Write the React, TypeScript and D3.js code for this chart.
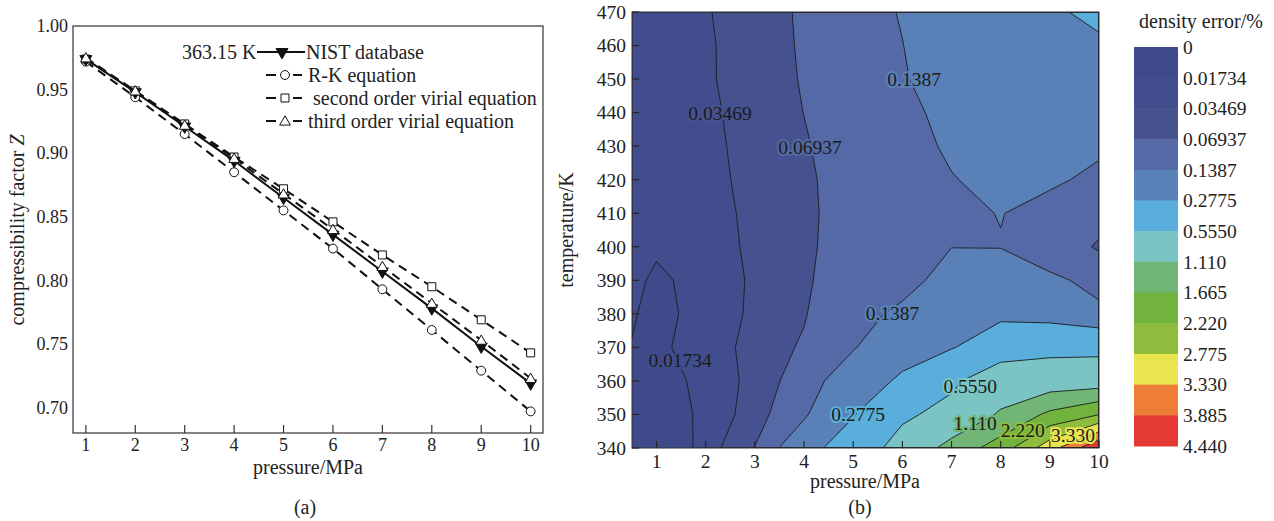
import React from 'react';
import * as d3 from 'd3';

// ---------- panel (a) data ----------
const PRESSURE = [1, 2, 3, 4, 5, 6, 7, 8, 9, 10];
const Z_NIST = [0.974, 0.948, 0.921, 0.894, 0.865, 0.836, 0.807, 0.778, 0.748, 0.719];
const Z_RK = [0.972, 0.944, 0.915, 0.885, 0.855, 0.825, 0.793, 0.761, 0.729, 0.697];
const Z_VIR2 = [0.974, 0.949, 0.923, 0.897, 0.872, 0.846, 0.820, 0.795, 0.769, 0.743];
const Z_VIR3 = [0.975, 0.949, 0.922, 0.896, 0.868, 0.840, 0.811, 0.782, 0.753, 0.723];
const LEFT_Y_TICKS = [0.7, 0.75, 0.8, 0.85, 0.9, 0.95, 1.0];
const LEFT_X_TICKS = [1, 2, 3, 4, 5, 6, 7, 8, 9, 10];
const LEGEND_NAMES = ['NIST database', 'R-K equation', ' second order virial equation', 'third order virial equation'];

// ---------- panel (b) data: density error (%) on a pressure x temperature grid ----------
const GRID_P = [0.5, 1, 2, 3, 4, 5, 6, 7, 8, 9, 10];
const GRID_T = [340, 350, 360, 370, 380, 390, 400, 410, 420, 430, 440, 450, 460, 470];
const ERR_340 = [0.0125, 0.0143, 0.0184, 0.071, 0.21, 0.38, 0.667, 1.30, 1.927, 3.10, 4.40];
const ERR_350 = [0.014, 0.0155, 0.018, 0.046, 0.126, 0.266, 0.507, 0.645, 1.178, 1.776, 2.21];
const ERR_360 = [0.016, 0.0163, 0.018, 0.0425, 0.095, 0.20, 0.30, 0.502, 0.75, 0.78, 0.80];
const ERR_370 = [0.01728, 0.0166, 0.019, 0.045, 0.075, 0.132, 0.22, 0.266, 0.40, 0.454, 0.46];
const ERR_380 = [0.0175, 0.0168, 0.018, 0.040, 0.0657, 0.12, 0.15, 0.20, 0.24, 0.212, 0.145];
const ERR_390 = [0.0178, 0.0170, 0.018, 0.039, 0.060, 0.11, 0.12, 0.16, 0.175, 0.145, 0.1296];
const ERR_400 = [0.020, 0.0176, 0.018, 0.042, 0.058, 0.10, 0.11, 0.138, 0.137, 0.12, 0.06];
const ERR_410 = [0.021, 0.019, 0.021, 0.043, 0.058, 0.095, 0.105, 0.13, 0.14, 0.125, 0.10];
const ERR_420 = [0.022, 0.020, 0.026, 0.043, 0.060, 0.095, 0.105, 0.135, 0.16, 0.145, 0.13];
const ERR_430 = [0.023, 0.021, 0.030, 0.041, 0.065, 0.095, 0.11, 0.15, 0.18, 0.17, 0.145];
const ERR_440 = [0.024, 0.022, 0.032, 0.040, 0.070, 0.095, 0.12, 0.16, 0.195, 0.19, 0.17];
const ERR_450 = [0.025, 0.023, 0.0335, 0.039, 0.074, 0.095, 0.13, 0.19, 0.21, 0.21, 0.20];
const ERR_460 = [0.026, 0.024, 0.0338, 0.038, 0.077, 0.096, 0.137, 0.20, 0.225, 0.23, 0.25];
const ERR_470 = [0.027, 0.025, 0.0345, 0.036, 0.080, 0.0965, 0.145, 0.21, 0.24, 0.25, 0.32];
const ERR_ROWS = [ERR_340, ERR_350, ERR_360, ERR_370, ERR_380, ERR_390, ERR_400, ERR_410, ERR_420, ERR_430, ERR_440, ERR_450, ERR_460, ERR_470];

const LEVELS = [0, 0.01734, 0.03469, 0.06937, 0.1387, 0.2775, 0.555, 1.11, 1.665, 2.22, 2.775, 3.33, 3.885, 4.44];
const LEVEL_LABELS = ['0', '0.01734', '0.03469', '0.06937', '0.1387', '0.2775', '0.5550', '1.110', '1.665', '2.220', '2.775', '3.330', '3.885', '4.440'];
const BAND_COLORS = ['#3f4a8a', '#414d8c', '#46528f', '#5469a5', '#5a81b7', '#5aaedb', '#7ac4c4', '#72b675', '#71b33c', '#8ebc3c', '#e8e54f', '#ee7e37', '#e53a33'];

const CLABEL_TEXT = ['0.03469', '0.06937', '0.1387', '0.01734', '0.1387', '0.2775', '0.5550', '1.110', '2.220', '3.330'];
const CLABEL_P = [2.29, 4.12, 6.24, 1.48, 5.8, 5.1, 7.38, 7.48, 8.45, 9.47];
const CLABEL_T = [439.9, 429.7, 450, 366.2, 380.3, 350.1, 358.5, 347.5, 345.4, 343.9];
const CLABEL_BG = [2, 3, 4, 1, 4, 5, 6, 7, 9, 10];

const RIGHT_X_TICKS = [1, 2, 3, 4, 5, 6, 7, 8, 9, 10];
const RIGHT_Y_TICKS = [340, 350, 360, 370, 380, 390, 400, 410, 420, 430, 440, 450, 460, 470];

const FONT = "'Liberation Serif', 'Times New Roman', Times, serif";
const TXT: React.CSSProperties = { fontFamily: FONT };

export default function App() {
  // ---------------- panel (a) ----------------
  const xL = d3.scaleLinear().domain([0.74, 10.25]).range([73, 543]);
  const yL = d3.scaleLinear().domain([0.68, 1.0]).range([433, 26]);
  const mkLine = (ys: number[]) =>
    d3.line<number>().x((_, i) => xL(PRESSURE[i])).y((d) => yL(d))(ys) || '';

  const circ = d3.symbol().type(d3.symbolCircle).size(62)() || '';
  const sq = d3.symbol().type(d3.symbolSquare).size(64)() || '';
  const tri = d3.symbol().type(d3.symbolTriangle).size(50)() || '';
  const triDown = d3.symbol().type(d3.symbolTriangle).size(62)() || '';

  // ---------------- panel (b) ----------------
  const xR = d3.scaleLinear().domain([0.5, 10]).range([632, 1099]);
  const yR = d3.scaleLinear().domain([340, 470]).range([448, 12]);
  const nx = GRID_P.length, ny = GRID_T.length;
  const idxToP = d3.scaleLinear().domain(d3.range(nx)).range(GRID_P);
  const idxToT = d3.scaleLinear().domain(d3.range(ny)).range(GRID_T);
  const gP = (g: number) => idxToP(Math.max(0, Math.min(nx - 1, g - 0.5)));
  const gT = (g: number) => idxToT(Math.max(0, Math.min(ny - 1, g - 0.5)));
  const values: number[] = ([] as number[]).concat(...ERR_ROWS);
  const contours = d3.contours().size([nx, ny]).thresholds(LEVELS.slice(1, 13))(values);
  const proj = d3.geoTransform({
    point(x: number, y: number) {
      (this as any).stream.point(xR(gP(x)), yR(gT(y)));
    },
  });
  const gpath = d3.geoPath(proj);

  const cbY = d3.scaleLinear().domain([0, 13]).range([47, 446]);

  return (
    <svg width={1274} height={521} style={{ position: 'absolute', left: 0, top: 0, background: '#fff', fontFamily: FONT }}>
      <rect x={0} y={0} width={1274} height={521} fill="#fff" />
      {/* ===== Panel (a) ===== */}
      <g>
        <path d={mkLine(Z_RK)} fill="none" stroke="#111" strokeWidth={2} strokeDasharray="9,6" />
        <path d={mkLine(Z_VIR2)} fill="none" stroke="#111" strokeWidth={2} strokeDasharray="9,6" />
        <path d={mkLine(Z_VIR3)} fill="none" stroke="#111" strokeWidth={2} strokeDasharray="9,6" />
        <path d={mkLine(Z_NIST)} fill="none" stroke="#111" strokeWidth={2} />
        {Z_RK.map((v, i) => (
          <path key={'rk' + i} d={circ} transform={`translate(${xL(PRESSURE[i])},${yL(v)})`} fill="#fff" stroke="#111" strokeWidth={1} />
        ))}
        {Z_VIR2.map((v, i) => (
          <path key={'v2' + i} d={sq} transform={`translate(${xL(PRESSURE[i])},${yL(v)})`} fill="#fff" stroke="#111" strokeWidth={1} />
        ))}
        {Z_NIST.map((v, i) => (
          <path key={'ni' + i} d={triDown} transform={`translate(${xL(PRESSURE[i])},${yL(v)}) rotate(180)`} fill="#111" stroke="#111" strokeWidth={1} />
        ))}
        {Z_VIR3.map((v, i) => (
          <path key={'v3' + i} d={tri} transform={`translate(${xL(PRESSURE[i])},${yL(v) + 1})`} fill="#fff" stroke="#111" strokeWidth={1} />
        ))}
        <rect x={73} y={26} width={470} height={407} fill="none" stroke="#333" strokeWidth={1.2} />
        {LEFT_X_TICKS.map((t) => (
          <g key={'lx' + t}>
            <line x1={xL(t)} x2={xL(t)} y1={433} y2={425} stroke="#333" strokeWidth={1.2} />
            <text style={TXT} x={xL(t)} y={445} dy="0.35em" textAnchor="middle" fontSize={18} fill="#222">{t}</text>
          </g>
        ))}
        {LEFT_Y_TICKS.map((t) => (
          <text style={TXT} key={'ly' + t} x={68} y={yL(t)} dy="0.35em" textAnchor="end" fontSize={18} fill="#222">{t.toFixed(2)}</text>
        ))}
        <text style={TXT} x={308} y={467} dy="0.35em" textAnchor="middle" fontSize={20} fill="#222">pressure/MPa</text>
        <text style={TXT} transform="translate(17,230) rotate(-90)" dy="0.35em" textAnchor="middle" fontSize={20} fill="#222">
          compressibility factor <tspan style={{ fontStyle: 'italic', fontFamily: FONT }}>Z</tspan>
        </text>
        <text style={TXT} x={305} y={507} dy="0.35em" textAnchor="middle" fontSize={20} fill="#222">(a)</text>

        {/* legend */}
        <text style={TXT} x={182} y={52} dy="0.35em" fontSize={20} fill="#222">363.15 K</text>
        <line x1={257} x2={305} y1={52} y2={52} stroke="#111" strokeWidth={2} />
        <path d={triDown} transform={`translate(282,52) rotate(180)`} fill="#111" stroke="#111" />
        <text style={TXT} x={306} y={52} dy="0.35em" fontSize={20} fill="#222">{LEGEND_NAMES[0]}</text>
        {[1, 2, 3].map((k) => {
          const yy = [52, 75, 98, 121][k];
          const sym = k === 1 ? circ : k === 2 ? sq : tri;
          return (
            <g key={'lg' + k}>
              <line x1={266} x2={276} y1={yy} y2={yy} stroke="#111" strokeWidth={2} />
              <line x1={293} x2={302} y1={yy} y2={yy} stroke="#111" strokeWidth={2} />
              <path d={sym} transform={`translate(285,${yy + (k === 3 ? 1 : 0)})`} fill="#fff" stroke="#111" strokeWidth={1} />
              <text x={308} y={yy} dy="0.35em" fontSize={20} fill="#222" style={{ whiteSpace: 'pre', fontFamily: FONT }}>{LEGEND_NAMES[k]}</text>
            </g>
          );
        })}
      </g>

      {/* ===== Panel (b) ===== */}
      <defs>
        <clipPath id="cclip">
          <rect x={632} y={12} width={467} height={436} />
        </clipPath>
      </defs>
      <g clipPath="url(#cclip)">
        <rect x={632} y={12} width={467} height={436} fill={BAND_COLORS[0]} />
        {contours.map((c, i) => (
          <path key={'cf' + i} d={gpath(c as any) || ''} fill={BAND_COLORS[i + 1]} stroke="none" />
        ))}
        {contours.map((c, i) => (
          <path key={'cl' + i} d={gpath(c as any) || ''} fill="none" stroke="#1c1c1c" strokeWidth={0.9} strokeLinejoin="round" />
        ))}
        {CLABEL_TEXT.map((t, i) => (
          <text key={'lab' + i} x={xR(CLABEL_P[i])} y={yR(CLABEL_T[i])} dy="0.35em" textAnchor="middle" fontSize={19.5}
            fill="#1a1a1a" stroke={BAND_COLORS[CLABEL_BG[i]]} strokeWidth={4} style={{ paintOrder: 'stroke', fontFamily: FONT }}>
            {t}
          </text>
        ))}
      </g>
      <rect x={632} y={12} width={467} height={436} fill="none" stroke="#333" strokeWidth={1} />
      {RIGHT_X_TICKS.map((t) => (
        <g key={'rx' + t}>
          <line x1={xR(t)} x2={xR(t)} y1={448} y2={441} stroke="#222" strokeWidth={1.1} />
          <text style={TXT} x={xR(t)} y={461} dy="0.35em" textAnchor="middle" fontSize={19.5} fill="#222">{t}</text>
        </g>
      ))}
      {RIGHT_Y_TICKS.map((t) => (
        <g key={'ry' + t}>
          <line x1={632} x2={639} y1={yR(t)} y2={yR(t)} stroke="#222" strokeWidth={1.1} />
          <text style={TXT} x={626} y={yR(t)} dy="0.35em" textAnchor="end" fontSize={19.5} fill="#222">{t}</text>
        </g>
      ))}
      <text style={TXT} x={865} y={481} dy="0.35em" textAnchor="middle" fontSize={20} fill="#222">pressure/MPa</text>
      <text style={TXT} transform="translate(566,230) rotate(-90)" dy="0.35em" textAnchor="middle" fontSize={20} fill="#222">temperature/K</text>
      <text style={TXT} x={860} y={507} dy="0.35em" textAnchor="middle" fontSize={20} fill="#222">(b)</text>

      {/* colorbar */}
      <text style={TXT} x={1201} y={21} dy="0.35em" textAnchor="middle" fontSize={20} fill="#222">density error/%</text>
      {BAND_COLORS.map((c, i) => (
        <rect key={'cb' + i} x={1134} y={cbY(i)} width={44} height={cbY(i + 1) - cbY(i) + 0.5} fill={c} />
      ))}
      {LEVEL_LABELS.map((t, i) => (
        <text style={TXT} key={'cbl' + i} x={1183} y={cbY(i)} dy="0.35em" fontSize={19.5} fill="#222">{t}</text>
      ))}
    </svg>
  );
}
